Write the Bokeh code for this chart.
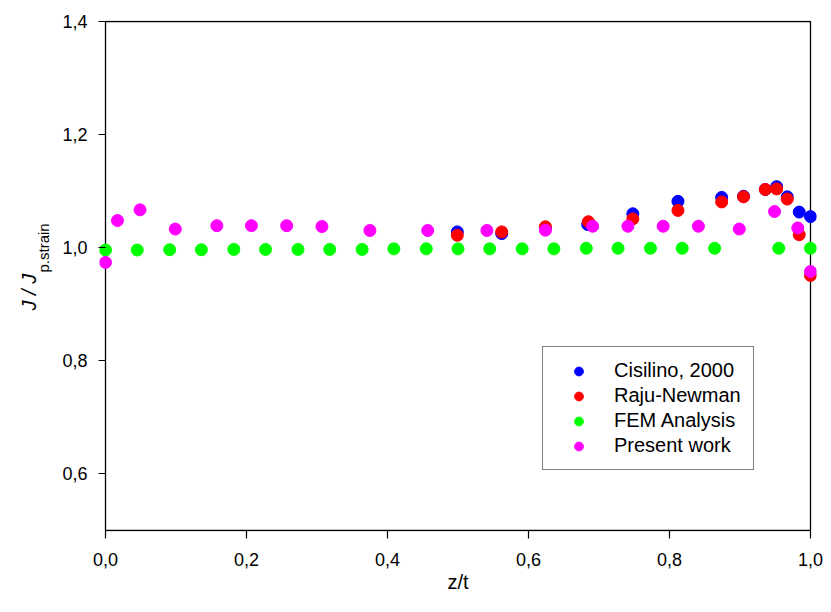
from bokeh.plotting import figure
from bokeh.models import Range1d, FixedTicker, Title
from bokeh.embed import file_html
from bokeh.resources import INLINE

# ---------------- data ----------------
x_ticks = [0.0, 0.2, 0.4, 0.6, 0.8, 1.0]
x_tick_labels = ["0,0", "0,2", "0,4", "0,6", "0,8", "1,0"]
y_ticks = [0.6, 0.8, 1.0, 1.2, 1.4]
y_tick_labels = ["0,6", "0,8", "1,0", "1,2", "1,4"]
y_lo, y_hi = 0.5, 1.4

cisilino_z = [0.499, 0.562, 0.624, 0.684, 0.748, 0.812, 0.874, 0.905, 0.936, 0.952, 0.967, 0.984, 1.0]
cisilino_v = [1.028, 1.025, 1.034, 1.041, 1.060, 1.082, 1.089, 1.091, 1.103, 1.108, 1.090, 1.063, 1.055]

raju_z = [0.499, 0.562, 0.624, 0.685, 0.748, 0.812, 0.874, 0.905, 0.936, 0.952, 0.967, 0.984, 1.0]
raju_v = [1.022, 1.028, 1.037, 1.046, 1.051, 1.066, 1.081, 1.090, 1.103, 1.104, 1.086, 1.023, 0.951]

fem_z = [0.0, 0.045, 0.091, 0.136, 0.182, 0.227, 0.273, 0.318, 0.364, 0.409, 0.455,
         0.5, 0.545, 0.591, 0.636, 0.682, 0.727, 0.773, 0.818, 0.864, 0.955, 1.0]
fem_v = [0.996, 0.996, 0.9965, 0.9965, 0.997, 0.997, 0.997, 0.997, 0.997, 0.998, 0.998,
         0.998, 0.998, 0.998, 0.998, 0.999, 0.999, 0.999, 0.999, 0.999, 0.999, 0.999]

present_z = [0.0, 0.017, 0.049, 0.099, 0.158, 0.207, 0.257, 0.307, 0.375, 0.457, 0.541,
             0.624, 0.691, 0.741, 0.791, 0.841, 0.899, 0.949, 0.982, 1.0]
present_v = [0.974, 1.048, 1.067, 1.033, 1.039, 1.039, 1.039, 1.0375, 1.0305, 1.0305, 1.0305,
             1.031, 1.038, 1.038, 1.038, 1.038, 1.033, 1.064, 1.035, 0.958]

# ---------------- layout constants ----------------
W, H = 823, 596
BOX_L, BOX_R = 105, 810        # pixel columns of x = 0 and x = 1
BOX_T, BOX_B = 21, 530         # pixel rows of y = 1.4 and y = 0.5
PAD_PX_X, PAD_PX_Y = 6, 1
px_x = (BOX_R - BOX_L) / (x_ticks[-1] - x_ticks[0])
px_y = (BOX_B - BOX_T) / (y_hi - y_lo)
x_pad = PAD_PX_X / px_x
y_pad = PAD_PX_Y / px_y
FONT = "Liberation Sans"

x_lo, x_hi = x_ticks[0], x_ticks[-1]

p = figure(width=W, height=H,
           x_range=Range1d(x_lo - x_pad, x_hi + x_pad),
           y_range=Range1d(y_lo - y_pad, y_hi + y_pad),
           output_backend="svg", toolbar_location=None,
           min_border_left=BOX_L - PAD_PX_X, min_border_right=W - (BOX_R + PAD_PX_X),
           min_border_top=BOX_T - PAD_PX_Y, min_border_bottom=H - (BOX_B + PAD_PX_Y))

p.xgrid.visible = False
p.ygrid.visible = False
p.outline_line_color = None
p.background_fill_color = "white"
p.border_fill_color = "white"

# plot box (drawn from the axis limits)
p.quad(left=[x_lo], right=[x_hi], bottom=[y_lo], top=[y_hi],
       fill_color=None, line_color="black", line_width=1.3)

# axes
p.xaxis.ticker = FixedTicker(ticks=x_ticks, minor_ticks=[])
p.xaxis.major_label_overrides = dict(zip(x_ticks, x_tick_labels))
p.xaxis.axis_line_color = None
p.xaxis.major_tick_in = 1
p.xaxis.major_tick_out = 7
p.xaxis.major_tick_line_color = "black"
p.xaxis.major_tick_line_width = 1.2
p.xaxis.major_label_standoff = 14
p.xaxis.major_label_text_font = FONT
p.xaxis.major_label_text_font_size = "18px"
p.xaxis.major_label_text_color = "black"
p.xaxis.axis_label = "z/t"
p.xaxis.axis_label_standoff = 2
p.xaxis.axis_label_text_font = FONT
p.xaxis.axis_label_text_font_size = "20px"
p.xaxis.axis_label_text_font_style = "normal"
p.xaxis.axis_label_text_color = "black"

p.yaxis.ticker = FixedTicker(ticks=y_ticks, minor_ticks=[])
p.yaxis.major_label_overrides = dict(zip(y_ticks, y_tick_labels))
p.yaxis.axis_line_color = None
p.yaxis.major_tick_in = 6
p.yaxis.major_tick_out = 1
p.yaxis.major_tick_line_color = "black"
p.yaxis.major_tick_line_width = 1.2
p.yaxis.major_label_standoff = 11
p.yaxis.major_label_text_font = FONT
p.yaxis.major_label_text_font_size = "18px"
p.yaxis.major_label_text_color = "black"

# data
SIZE = 12
p.scatter(cisilino_z, cisilino_v, size=SIZE, color="#0000FF", legend_label="Cisilino, 2000")
p.scatter(raju_z, raju_v, size=SIZE, color="#FF0000", legend_label="Raju-Newman")
p.scatter(fem_z, fem_v, size=SIZE, color="#00FF00", legend_label="FEM Analysis")
p.scatter(present_z, present_v, size=SIZE, color="#FF00FF", legend_label="Present work")

# legend
lg = p.legend[0]
lg.location = (443, 61)
lg.margin = 0
lg.padding = 12
lg.spacing = 2
lg.glyph_width = 47
lg.glyph_height = 22
lg.label_height = 22
lg.label_standoff = 12
lg.label_text_font = FONT
lg.label_text_font_size = "20px"
lg.label_text_color = "black"
lg.border_line_color = "black"
lg.border_line_width = 1.5
lg.background_fill_color = "white"
lg.background_fill_alpha = 1.0

# y-axis title  J / J_p.strain  (two titles in the left panel)
frame_bottom = BOX_B + PAD_PX_Y
p.add_layout(Title(text="p.strain", align="left", offset=frame_bottom - 272,
                   vertical_align="bottom", standoff=16,
                   text_font=FONT, text_font_size="15px", text_font_style="normal",
                   text_color="black"), "left")
p.add_layout(Title(text="J / J", align="left", offset=frame_bottom - 310,
                   vertical_align="bottom", standoff=-30,
                   text_font=FONT, text_font_size="20px", text_font_style="italic",
                   text_color="black"), "left")

open("out.html", "w").write(file_html(p, INLINE))
